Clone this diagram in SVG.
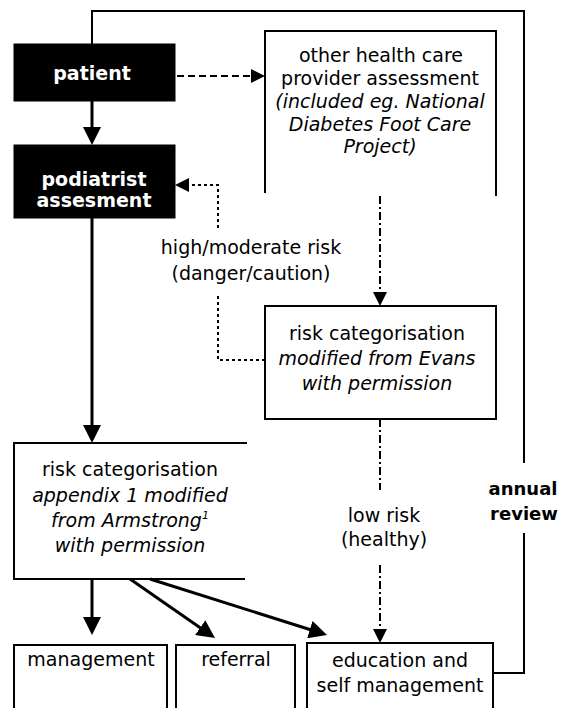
<svg xmlns="http://www.w3.org/2000/svg" width="561" height="708" viewBox="0 0 561 708">
<style>
  .box { fill: #fff; stroke: #000; stroke-width: 2; }
  .open { fill: none; stroke: #000; stroke-width: 2; }
  .dark { fill: #000; stroke: #000; stroke-width: 1; }
  .t { font-family: "DejaVu Sans", Verdana, sans-serif; font-size: 19px; fill: #000; text-anchor: middle; }
  .i { font-style: italic; }
  .w { font-family: "DejaVu Sans", Verdana, sans-serif; font-size: 19px; font-weight: bold; fill: #fff; text-anchor: middle; }
  .b { font-family: "DejaVu Sans", Verdana, sans-serif; font-size: 18px; font-weight: bold; fill: #000; text-anchor: middle; }
  .solid { fill: none; stroke: #000; stroke-width: 3; }
  .loop { fill: none; stroke: #000; stroke-width: 2; }
  .dash { fill: none; stroke: #000; stroke-width: 2; stroke-dasharray: 7 4; }
  .dashdot { fill: none; stroke: #000; stroke-width: 2; stroke-dasharray: 8 3 2 3; }
  .dot { fill: none; stroke: #000; stroke-width: 2; stroke-dasharray: 3 3; }
</style>
<defs>
  <marker id="big" viewBox="0 0 18 18" refX="14" refY="9" markerWidth="18" markerHeight="18" markerUnits="userSpaceOnUse" orient="auto">
    <path d="M0,0 L18,9 L0,18 z" fill="#000"/>
  </marker>
  <marker id="small" viewBox="0 0 14 14" refX="11" refY="7" markerWidth="14" markerHeight="14" markerUnits="userSpaceOnUse" orient="auto">
    <path d="M0,0 L14,7 L0,14 z" fill="#000"/>
  </marker>
</defs>
<rect width="561" height="708" fill="#fff"/>

<g id="connectors">
  <path class="solid" d="M92,101 V141" marker-end="url(#big)"/>
  <path class="solid" d="M92,218 V439" marker-end="url(#big)"/>
  <path class="solid" d="M92,579 V631" marker-end="url(#big)"/>
  <path class="solid" d="M130,579 L211.7,635.7" marker-end="url(#big)"/>
  <path class="solid" d="M150,579 L323.2,633.8" marker-end="url(#big)"/>
  <path class="dash" d="M177,76 H262" marker-end="url(#small)"/>
  <path class="dashdot" d="M380,196 V303" marker-end="url(#small)"/>
  <path class="dot" d="M265,360 H218 V293"/>
  <path class="dot" d="M218,228 V185 H178" marker-end="url(#small)"/>
  <path class="dashdot" d="M380,419 V490"/>
  <path class="dashdot" d="M380,565 V640" marker-end="url(#small)"/>
  <path class="loop" d="M92,44 V11 H524 V463"/>
  <path class="loop" d="M524,533 V673 H493"/>
</g>

<g id="patient">
  <rect class="dark" x="14" y="44" width="161" height="57"/>
  <text class="w" x="92" y="80">patient</text>
</g>

<g id="podiatrist">
  <rect class="dark" x="14" y="145" width="161" height="73"/>
  <text class="w" x="94" y="186">podiatrist</text>
  <text class="w" x="94" y="207">assesment</text>
</g>

<g id="other-provider">
  <path class="open" d="M265,193 V31 H496 V196"/>
  <text class="t" x="381" y="62">other health care</text>
  <text class="t" x="380" y="85">provider assessment</text>
  <text class="t i" x="380" y="108">(included eg. National</text>
  <text class="t i" x="380" y="131">Diabetes Foot Care</text>
  <text class="t i" x="380" y="153">Project)</text>
</g>

<g id="high-risk-label">
  <text class="t" x="251" y="254">high/moderate risk</text>
  <text class="t" x="251" y="280">(danger/caution)</text>
</g>

<g id="risk-evans">
  <rect class="box" x="265" y="306" width="231" height="113"/>
  <text class="t" x="377" y="340">risk categorisation</text>
  <text class="t i" x="377" y="365">modified from Evans</text>
  <text class="t i" x="377" y="390">with permission</text>
</g>

<g id="low-risk-label">
  <text class="t" x="384" y="522">low risk</text>
  <text class="t" x="384" y="546">(healthy)</text>
</g>

<g id="annual-review">
  <text class="b" x="523" y="495">annual</text>
  <text class="b" x="524" y="520">review</text>
</g>

<g id="risk-armstrong">
  <path class="open" d="M247,443 H14 V579 H245"/>
  <text class="t" x="130" y="476">risk categorisation</text>
  <text class="t i" x="130" y="502">appendix 1 modified</text>
  <text class="t i" x="130" y="527">from Armstrong<tspan font-size="11" dy="-8">1</tspan></text>
  <text class="t i" x="130" y="552">with permission</text>
</g>

<g id="management">
  <path class="open" d="M14,712 V645 H167 V712"/>
  <text class="t" x="91" y="666">management</text>
</g>

<g id="referral">
  <path class="open" d="M176,712 V645 H295 V712"/>
  <text class="t" x="236" y="666">referral</text>
</g>

<g id="education">
  <path class="open" d="M307,712 V643 H493 V712"/>
  <text class="t" x="400" y="667">education and</text>
  <text class="t" x="400" y="692">self management</text>
</g>
</svg>
